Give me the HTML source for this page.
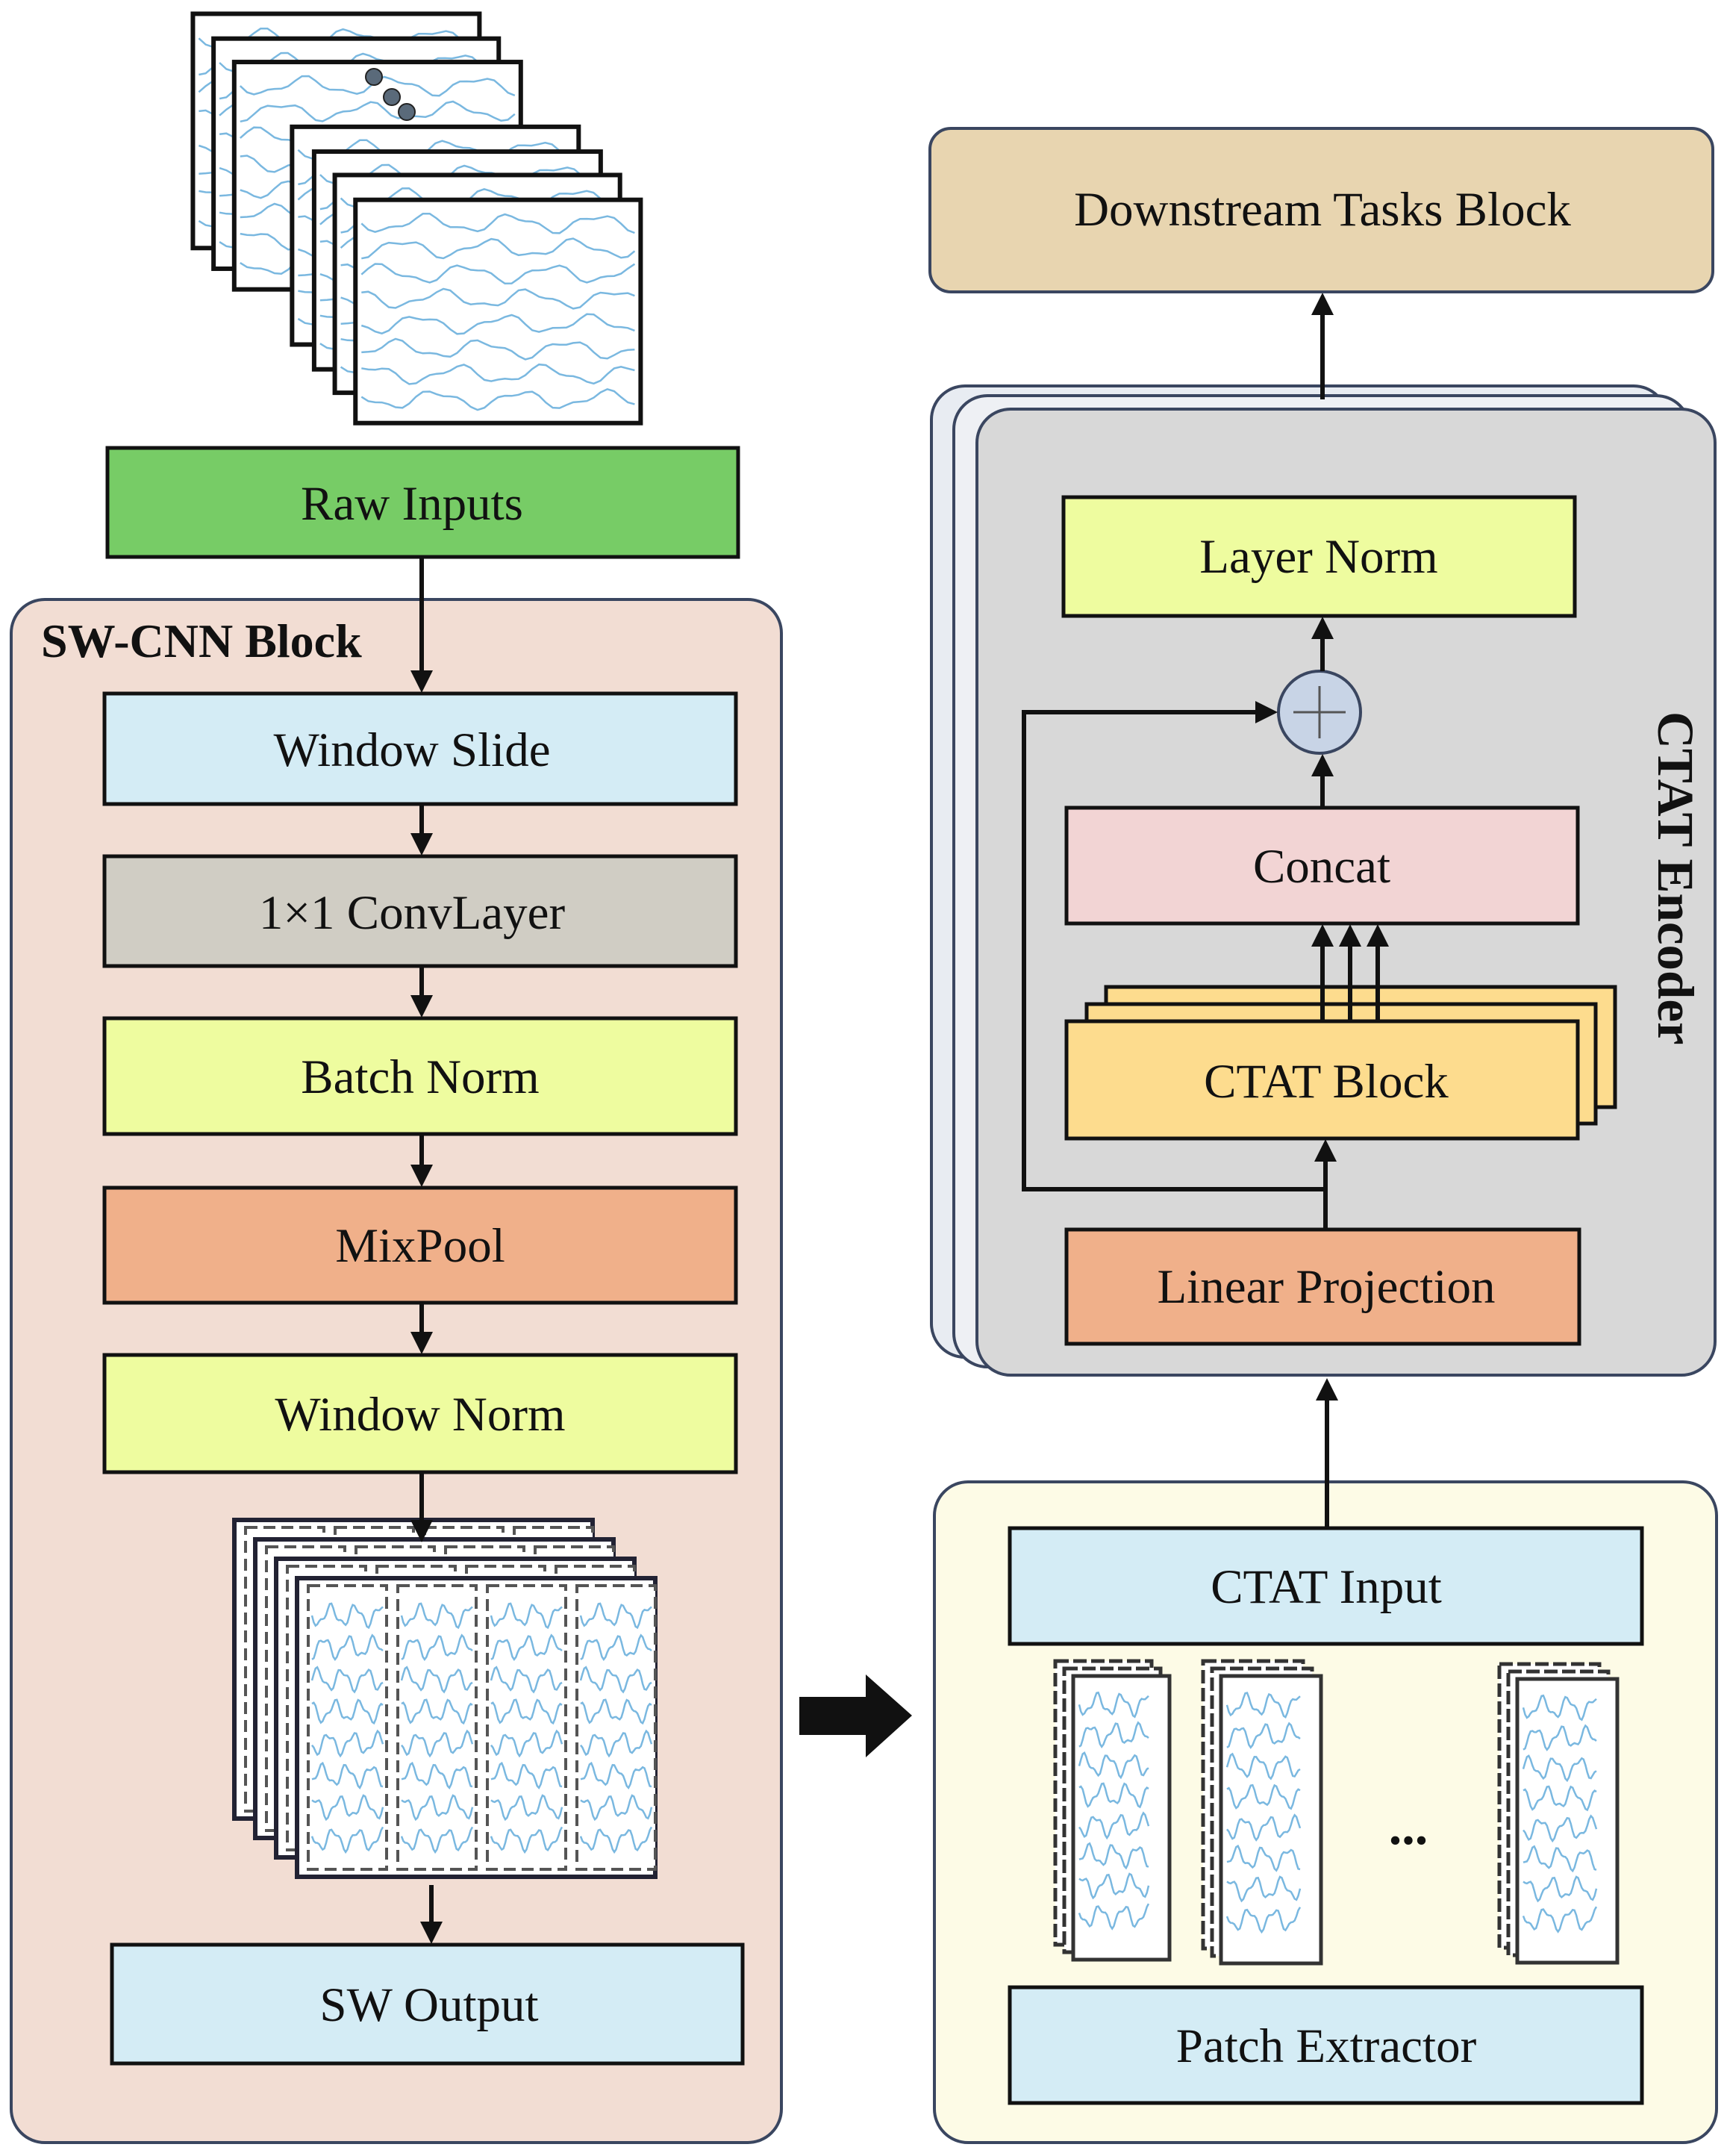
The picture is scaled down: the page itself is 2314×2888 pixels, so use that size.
<!DOCTYPE html>
<html><head><meta charset="utf-8"><style>
html,body{margin:0;padding:0;background:#fff}
svg{display:block}
text{font-family:"Liberation Serif",serif;fill:#111}
</style></head><body>
<svg id="s" width="2314" height="2888" viewBox="0 0 2314 2888" xmlns="http://www.w3.org/2000/svg">
<defs>
<marker id="a" viewBox="0 0 10 10" refX="8" refY="5" markerWidth="5" markerHeight="5" orient="auto"><path d="M0,0L10,5L0,10z" fill="#111"/></marker>
</defs>
<g id="sheets"></g>
<rect x="144" y="600" width="845" height="146" fill="#77cc66" stroke="#111" stroke-width="5"/>
<text x="552" y="696" font-size="65" text-anchor="middle">Raw Inputs</text>
<rect x="15" y="803" width="1032" height="2067" rx="45" fill="#f2ddd3" stroke="#3a4660" stroke-width="4"/>
<text x="55" y="880" font-size="64" font-weight="bold">SW-CNN Block</text>
<g stroke="#111" stroke-width="5">
<rect x="140" y="929" width="846" height="148" fill="#d4ecf5"/>
<rect x="140" y="1147" width="846" height="147" fill="#d0cdc4"/>
<rect x="140" y="1364" width="846" height="155" fill="#eefc9f"/>
<rect x="140" y="1591" width="846" height="154" fill="#f0b08a"/>
<rect x="140" y="1815" width="846" height="157" fill="#eefc9f"/>
<rect x="150" y="2605" width="845" height="159" fill="#d4ecf5"/>
</g>
<g font-size="65" text-anchor="middle">
<text x="552" y="1026">Window Slide</text>
<text x="552" y="1244">1×1 ConvLayer</text>
<text x="563" y="1464">Batch Norm</text>
<text x="563" y="1690">MixPool</text>
<text x="563" y="1916">Window Norm</text>
<text x="575" y="2707">SW Output</text>
</g>
<g id="win"></g>
<g stroke="#111" stroke-width="6" marker-end="url(#a)">
<line x1="565" y1="746" x2="565" y2="922"/>
<line x1="565" y1="1077" x2="565" y2="1140"/>
<line x1="565" y1="1294" x2="565" y2="1357"/>
<line x1="565" y1="1519" x2="565" y2="1584"/>
<line x1="565" y1="1745" x2="565" y2="1808"/>
<line x1="565" y1="1972" x2="565" y2="2060"/>
<line x1="578" y1="2525" x2="578" y2="2598"/>
</g>
<path d="M1071,2273 L1160,2273 L1160,2243 L1222,2298 L1160,2354 L1160,2324 L1071,2324 Z" fill="#111"/>
<rect x="1252" y="1985" width="1048" height="885" rx="45" fill="#fdfbe6" stroke="#3a4660" stroke-width="4"/>
<rect x="1353" y="2047" width="847" height="155" fill="#d4ecf5" stroke="#111" stroke-width="5"/>
<rect x="1353" y="2662" width="847" height="155" fill="#d4ecf5" stroke="#111" stroke-width="5"/>
<text x="1777" y="2147" font-size="65" text-anchor="middle">CTAT Input</text>
<text x="1777" y="2762" font-size="65" text-anchor="middle">Patch Extractor</text>
<g id="patches"></g>
<text x="1887" y="2470" font-size="70" text-anchor="middle" font-weight="bold">...</text>
<line x1="1778" y1="2047" x2="1778" y2="1852" stroke="#111" stroke-width="6" marker-end="url(#a)"/>
<rect x="1248" y="517" width="986" height="1301" rx="45" fill="#e8ecf2" stroke="#3a4660" stroke-width="4"/>
<rect x="1278" y="530" width="986" height="1301" rx="45" fill="#eef0f4" stroke="#3a4660" stroke-width="4"/>
<rect x="1309" y="548" width="989" height="1294" rx="45" fill="#d8d8d8" stroke="#3a4660" stroke-width="4"/>
<text transform="translate(2222,953) rotate(90)" font-size="69" font-weight="bold">CTAT Encoder</text>
<rect x="1425" y="666" width="685" height="159" fill="#eefc9f" stroke="#111" stroke-width="5"/>
<text x="1767" y="767" font-size="65" text-anchor="middle">Layer Norm</text>
<rect x="1429" y="1082" width="685" height="155" fill="#f2d4d4" stroke="#111" stroke-width="5"/>
<text x="1771" y="1182" font-size="65" text-anchor="middle">Concat</text>
<rect x="1482" y="1322" width="682" height="161" fill="#fddc8e" stroke="#111" stroke-width="5"/>
<rect x="1456" y="1345" width="682" height="160" fill="#fddc8e" stroke="#111" stroke-width="5"/>
<rect x="1429" y="1368" width="685" height="157" fill="#fddc8e" stroke="#111" stroke-width="5"/>
<text x="1777" y="1470" font-size="65" text-anchor="middle">CTAT Block</text>
<rect x="1429" y="1647" width="687" height="153" fill="#f0b08a" stroke="#111" stroke-width="5"/>
<text x="1777" y="1745" font-size="65" text-anchor="middle">Linear Projection</text>
<circle cx="1768" cy="954" r="55" fill="#c8d4e6" stroke="#3a4660" stroke-width="4"/>
<path d="M1733,954H1803M1768,919V989" stroke="#555" stroke-width="3"/>
<g stroke="#111" stroke-width="6" fill="none">
<line x1="1776" y1="1647" x2="1776" y2="1532" marker-end="url(#a)"/>
<line x1="1772" y1="1368" x2="1772" y2="1244" marker-end="url(#a)"/>
<line x1="1809" y1="1368" x2="1809" y2="1244" marker-end="url(#a)"/>
<line x1="1846" y1="1368" x2="1846" y2="1244" marker-end="url(#a)"/>
<line x1="1772" y1="1082" x2="1772" y2="1016" marker-end="url(#a)"/>
<line x1="1772" y1="899" x2="1772" y2="832" marker-end="url(#a)"/>
<polyline points="1776,1593 1372,1593 1372,954 1706,954" marker-end="url(#a)"/>
<line x1="1772" y1="535" x2="1772" y2="398" marker-end="url(#a)"/>
</g>
<rect x="1246" y="172" width="1049" height="219" rx="28" fill="#e8d5b0" stroke="#3a4660" stroke-width="4"/>
<text x="1772" y="302" font-size="65" text-anchor="middle">Downstream Tasks Block</text>
</svg>
<script>
var NS="http://www.w3.org/2000/svg";
function el(p,t,a){var e=document.createElementNS(NS,t);for(var k in a)e.setAttribute(k,a[k]);p.appendChild(e);return e;}
function waves(g,x,y,w,h,n,amp,fr){
 for(var i=0;i<n;i++){var yy=y+h*(i+0.7)/(n+0.4),d="";
  for(var j=0;j<=40;j++){var xx=x+w*j/40,v=yy+amp*Math.sin(j*fr+i*1.7)+amp*0.4*Math.sin(j*fr*2.3+i);d+=(j?"L":"M")+xx.toFixed(1)+","+v.toFixed(1);}
  el(g,"path",{d:d,fill:"none",stroke:"#7ab8e0","stroke-width":2.5});}
}
var g=document.getElementById("sheets");
var sh=[[140,10,348,180],[155,28,362,195],[170,45,378,210],[212,92,420,250],[228,110,436,268],[243,127,450,285],[258,145,465,307]];
sh.forEach(function(r){var x=r[0]*1.846,y=r[1]*1.846,w=(r[2]-r[0])*1.846,h=(r[3]-r[1])*1.846;
 el(g,"rect",{x:x,y:y,width:w,height:h,fill:"#fff",stroke:"#111","stroke-width":6});
 waves(g,x+8,y+8,w-16,h-16,8,10,0.5);});
[[501,103],[525,130],[545,150]].forEach(function(c){el(g,"circle",{cx:c[0],cy:c[1],r:11,fill:"#5a6a7a",stroke:"#222","stroke-width":2});});
var w=document.getElementById("win");
for(var k=0;k<4;k++){var x=314+k*28,y=2036+k*26,W=480,H=400;
 el(w,"rect",{x:x,y:y,width:W,height:H,fill:"#fff",stroke:"#223",'stroke-width':6});
 for(var m=0;m<4;m++){var cx=x+15+m*120;el(w,"rect",{x:cx,y:y+10,width:105,height:H-20,fill:"#fff",stroke:"#555","stroke-width":4,"stroke-dasharray":"16 8"});
  if(k==3)waves(w,cx+5,y+20,95,H-40,8,12,0.45);}
}
var p=document.getElementById("patches");
[[1414,2225,153,400],[1612,2225,158,405],[2009,2229,158,400]].forEach(function(r){
 for(var k=0;k<3;k++){var x=r[0]+k*12,y=r[1]+k*10,ww=r[2]-24,hh=r[3]-20;
  el(p,"rect",{x:x,y:y,width:ww,height:hh,fill:"#fff",stroke:"#333","stroke-width":5,"stroke-dasharray":k<2?"18 6":"none"});}
 waves(p,r[0]+32,r[1]+30,r[2]-60,r[3]-60,8,12,0.45);});
</script>
</body></html>
